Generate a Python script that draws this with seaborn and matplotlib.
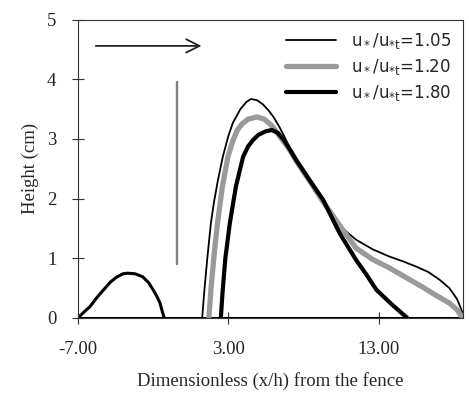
import numpy as np
import pandas as pd
import seaborn as sns
import matplotlib
matplotlib.use("Agg")
import matplotlib.pyplot as plt

# datos
x_hump = [-7, -6.6, -6.2, -5.75, -5.3, -4.85, -4.4, -4.0, -3.7, -3.2, -2.7, -2.3, -2.0, -1.75, -1.55, -1.27]
y_hump = [0, 0.1, 0.19, 0.34, 0.47, 0.6, 0.69, 0.74, 0.75, 0.74, 0.69, 0.59, 0.47, 0.36, 0.25, 0]

x_105 = [1.26, 1.4, 1.6, 1.84, 2.05, 2.3, 2.63, 3.0, 3.3, 3.8, 4.2, 4.5, 4.9, 5.3, 5.7, 6.0,
         6.4, 6.8, 7.5, 8.4, 9.3, 9.9, 10.6, 11.5, 12.6, 13.7, 14.6, 15.5, 16.3, 17.05,
         17.7, 18.2, 18.45, 18.7]
y_105 = [0, 0.45, 1.0, 1.59, 1.95, 2.3, 2.7, 3.05, 3.27, 3.5, 3.62, 3.67, 3.65, 3.58, 3.47, 3.37,
         3.2, 3.0, 2.65, 2.3, 1.98, 1.72, 1.5, 1.31, 1.15, 1.03, 0.95, 0.86, 0.77, 0.64,
         0.5, 0.32, 0.17, 0]

x_120 = [1.7, 1.85, 2.05, 2.28, 2.6, 2.97, 3.3, 3.6, 3.9, 4.3, 4.9, 5.4, 5.9, 6.4, 7.0, 7.6,
         8.4, 9.3, 10.4, 11.5, 12.6, 13.7, 14.8, 15.9, 16.8, 17.7, 18.2, 18.6]
y_120 = [0, 0.5, 1.05, 1.59, 2.2, 2.7, 2.97, 3.15, 3.25, 3.33, 3.37, 3.33, 3.22, 3.05, 2.85, 2.6,
         2.3, 1.95, 1.55, 1.17, 0.98, 0.84, 0.68, 0.52, 0.38, 0.25, 0.14, 0]

x_180 = [2.5, 2.62, 2.8, 3.1, 3.5, 3.98, 4.3, 4.63, 5.0, 5.5, 5.9, 6.3, 6.7, 7.1, 7.5,
         8.4, 9.3, 10.4, 11.5, 12.2, 12.85, 13.9, 14.9]
y_180 = [0, 0.45, 1.0, 1.59, 2.2, 2.7, 2.87, 2.98, 3.07, 3.13, 3.15, 3.1, 2.98, 2.82, 2.65,
         2.31, 1.98, 1.42, 0.97, 0.72, 0.47, 0.22, 0]

x_base = [-7, 18.6]
y_base = [0, 0]

fence_x = [-0.4, -0.4]
fence_y = [0.9, 3.95]

etiquetas = [r"$\mathregular{u_*/u_{*t}}$=1.05",
             r"$\mathregular{u_*/u_{*t}}$=1.20",
             r"$\mathregular{u_*/u_{*t}}$=1.80"]

sns.set_style("white")
plt.rcParams["font.family"] = ["Liberation Serif", "DejaVu Serif"]

fig = plt.figure(figsize=(4.69, 3.93), dpi=100)
ax = fig.add_axes([0.1663, 0.191, 0.8207, 0.759])

sns.lineplot(x=x_base, y=y_base, ax=ax, color="black", linewidth=2.2, sort=False, estimator=None)
sns.lineplot(x=x_hump, y=y_hump, ax=ax, color="black", linewidth=2.2, sort=False, estimator=None)
sns.lineplot(x=x_105, y=y_105, ax=ax, color="black", linewidth=1.3, sort=False, estimator=None,
             label=etiquetas[0])
sns.lineplot(x=x_120, y=y_120, ax=ax, color="#9a9a9a", linewidth=3.8, sort=False, estimator=None,
             label=etiquetas[1])
sns.lineplot(x=x_180, y=y_180, ax=ax, color="black", linewidth=3.0, sort=False, estimator=None,
             label=etiquetas[2])
# la valla
sns.lineplot(x=fence_x, y=fence_y, ax=ax, color="#808080", linewidth=1.7, sort=False, estimator=None)

# flecha del viento
ax.annotate("", xy=(1.4, 4.56), xytext=(-6.0, 4.56),
            arrowprops=dict(arrowstyle="->", color="#222222", lw=1.3, mutation_scale=24))

ax.set_xlim(-7, 18.6)
ax.set_ylim(0, 5)
ax.set_xticks([-7, 3, 13])
ax.set_xticklabels(["-7.00", "3.00", "13.00"])
ax.set_yticks([0, 1, 2, 3, 4, 5])
ax.tick_params(axis="both", direction="inout", length=9, width=0.8, labelsize=13.5,
               color="#333333", bottom=True, left=True)
ax.tick_params(axis="x", pad=12)
ax.tick_params(axis="y", pad=11)

for s in ax.spines.values():
    s.set_color("#333333")
    s.set_linewidth(0.8)

ax.set_xlabel("Dimensionless (x/h) from the fence", fontsize=13.5, labelpad=10)
ax.set_ylabel("Height (cm)", fontsize=13.5, labelpad=6)

leg = ax.legend(loc="upper right", frameon=False, handlelength=3.0,
                labelspacing=0.35, borderaxespad=0.3, handletextpad=0.9,
                prop={"family": ["DejaVu Sans"], "size": 12})

plt.savefig("out.png", dpi=100)
